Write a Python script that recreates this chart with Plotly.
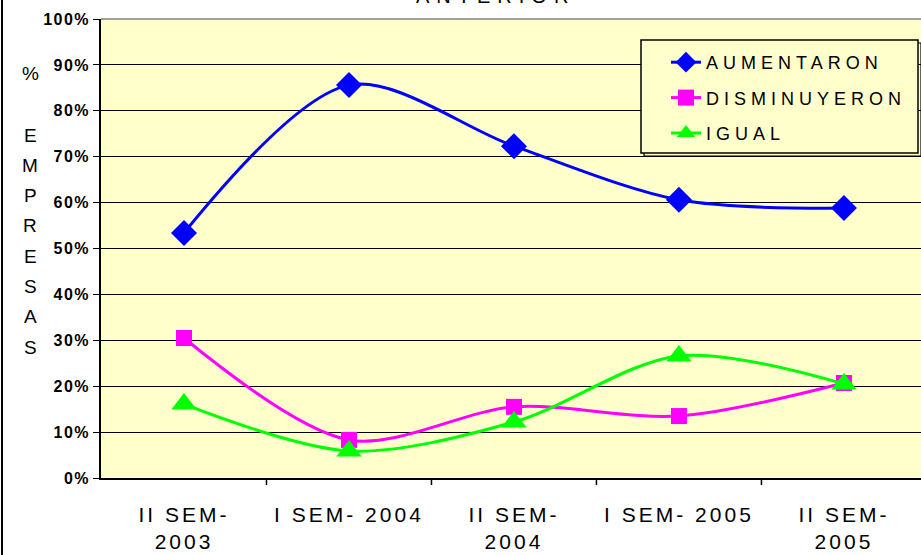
import plotly.graph_objects as go

categories = [["II SEM-", "2003"], ["I SEM- 2004"], ["II SEM-", "2004"], ["I SEM- 2005"], ["II SEM-", "2005"]]
aumentaron = [53.4, 85.6, 72.3, 60.6, 58.8]
disminuyeron = [30.5, 8.3, 15.5, 13.5, 20.7]
igual = [16.1, 5.9, 12.2, 26.6, 20.5]
y_ticks = [0, 10, 20, 30, 40, 50, 60, 70, 80, 90, 100]
y_ticklabels = [f"{v}%" for v in y_ticks]
y_title_top = "%"
y_title_letters = list("EMPRESAS")
title_text = "ANTERIOR"

W, H = 921, 555
L, R, T, B = 101, 0, 19, 77
PW, PH = W - L - R, H - T - B


def px_x(x):
    return (x - L) / PW


def px_y(y):
    return 1 - (y - T) / PH


def spaced(s, sp):
    return f"<span style='letter-spacing:{sp}px'>{s}</span>"


ticktext = ["<br>".join(spaced(part, 3) for part in c) for c in categories]

fig = go.Figure()
series = [
    ("AUMENTARON", aumentaron, "#0000FF", "diamond", 20),
    ("DISMINUYERON", disminuyeron, "#FF00FF", "square", 16),
    ("IGUAL", igual, "#00FF00", "triangle-up", 22),
]
for name, vals, col, sym, sz in series:
    fig.add_trace(go.Scatter(
        x=list(range(len(categories))), y=vals, name=spaced(name, 5), mode="lines+markers",
        legendgroup=name,
        line=dict(color=col, width=3, shape="spline", smoothing=0.9),
        marker=dict(symbol=sym, size=sz, color=col),
    ))

fig.update_layout(
    width=W, height=H,
    margin=dict(l=L, r=R, t=T, b=B),
    paper_bgcolor="white", plot_bgcolor="#FFFFCC",
    font=dict(family="Liberation Sans, Arial", color="black"),
    showlegend=True,
    legend=dict(
        x=px_x(666), y=px_y(44),
        xanchor="left", yanchor="top",
        bgcolor="rgba(0,0,0,0)", borderwidth=0,
        font=dict(size=18, family="Liberation Sans, Arial"),
        traceorder="grouped", tracegroupgap=9,
    ),
    xaxis=dict(
        range=[-0.503, 4.467], tickmode="array", tickvals=list(range(5)), ticktext=ticktext,
        showgrid=False, zeroline=False, showline=True, linecolor="black", linewidth=1.5,
        ticks="", tickfont=dict(size=21), ticklabelstandoff=17, fixedrange=True,
    ),
    yaxis=dict(
        range=[0, 100], tickmode="array", tickvals=y_ticks,
        ticktext=[spaced(t, 1.5) for t in y_ticklabels],
        showgrid=True, gridcolor="black", gridwidth=1,
        showline=True, linecolor="black", linewidth=1.5,
        ticks="outside", ticklen=6, tickcolor="black",
        tickfont=dict(size=16, family="Liberation Sans, Arial", weight="bold"),
        zeroline=False, fixedrange=True,
    ),
)

# between-category tick marks on the x axis
for i in range(1, len(categories)):
    fig.add_shape(type="line", xref="x", yref="paper", x0=i - 0.5, x1=i - 0.5,
                  y0=0, y1=-7 / PH, line=dict(color="black", width=1.5))

# top border of plot area (gray)
fig.add_shape(type="line", xref="paper", yref="paper", x0=0, x1=1, y0=1, y1=1,
              line=dict(color="#808080", width=1.5))

# legend box with shadow
fig.add_shape(type="rect", xref="paper", yref="paper", layer="above",
              x0=px_x(644), x1=px_x(921), y0=px_y(156), y1=px_y(43),
              line=dict(color="black", width=1.2), fillcolor="rgba(0,0,0,0)")
fig.add_shape(type="rect", xref="paper", yref="paper", layer="above",
              x0=px_x(641), x1=px_x(918), y0=px_y(153), y1=px_y(40),
              line=dict(color="black", width=1.5), fillcolor="#FFFFCC")

# Y axis title (stacked letters)
fig.add_annotation(text=y_title_top, xref="paper", yref="paper", x=px_x(30), y=px_y(73),
                   showarrow=False, font=dict(size=19), xanchor="center", yanchor="middle")
for k, ch in enumerate(y_title_letters):
    fig.add_annotation(text=ch, xref="paper", yref="paper", x=px_x(30), y=px_y(135 + k * 30.3),
                       showarrow=False, font=dict(size=19), xanchor="center", yanchor="middle")

# partially visible title at top
fig.add_annotation(text=spaced(title_text, 7), xref="paper", yref="paper", x=px_x(495),
                   y=px_y(9), showarrow=False, font=dict(size=20),
                   xanchor="center", yanchor="bottom")

# outer chart border (left edge)
fig.add_shape(type="line", xref="paper", yref="paper", x0=px_x(2), x1=px_x(2),
              y0=px_y(H + 5), y1=px_y(-5), line=dict(color="black", width=2))

fig.write_html("out.html", config={"responsive": False, "displayModeBar": False},
               post_script="document.body.style.margin='0';document.body.style.overflow='hidden';")
